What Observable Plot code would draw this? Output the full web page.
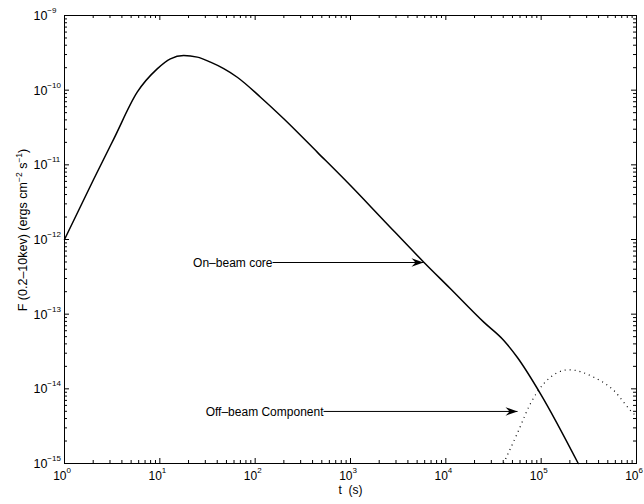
<!DOCTYPE html>
<html><head><meta charset="utf-8">
<script src="https://cdn.jsdelivr.net/npm/d3@7"></script>
<script src="https://cdn.jsdelivr.net/npm/@observablehq/plot@0.6"></script>
<style>
body{margin:0;background:#fff;}
svg{font-family:"Liberation Sans",Arial,Helvetica,sans-serif;}
</style>
</head><body><div id="chart"></div>
<script>
// On-beam core (solid)
const onBeamT = [1, 2.03, 3.29, 5.79, 9.38, 12.9, 17.8, 24.7, 34.0, 46.8, 64.9, 113.8, 199.5, 447.7, 1000, 2234, 5875, 11190, 25000, 40550, 56100, 98400, 245000];
const onBeamF = [1.0e-12, 6.46e-12, 2.23e-11, 9.4e-11, 1.93e-10, 2.63e-10, 2.91e-10, 2.77e-10, 2.37e-10, 1.94e-10, 1.49e-10, 8.05e-11, 4.14e-11, 1.48e-11, 5.28e-12, 1.80e-12, 4.97e-13, 2.19e-13, 7.82e-14, 4.45e-14, 2.65e-14, 8.59e-15, 1.0e-15];
// Off-beam component (dotted)
const offBeamT = [40300, 56100, 77300, 106700, 195000, 356500, 578100, 865000, 1000000];
const offBeamF = [1.0e-15, 2.52e-15, 6.37e-15, 1.18e-14, 1.80e-14, 1.43e-14, 9.5e-15, 5.13e-15, 4.27e-15];
// Tick labels
const xTickValues = [1, 10, 100, 1e3, 1e4, 1e5, 1e6];
const xTickExponents = ["0", "1", "2", "3", "4", "5", "6"];
const yTickValues = [1e-15, 1e-14, 1e-13, 1e-12, 1e-11, 1e-10, 1e-9];
const yTickExponents = ["\u221215", "\u221214", "\u221213", "\u221212", "\u221211", "\u221210", "\u22129"];
// Annotations
const annLabels = ["On\u2013beam core", "Off\u2013beam Component"];
const annStartT = [152, 521];
const annEndT = [5834, 56500];
const annF = [4.92e-13, 4.98e-15];

const onBeam = onBeamT.map((t, i) => ({t, f: onBeamF[i]}));
const offBeam = offBeamT.map((t, i) => ({t, f: offBeamF[i]}));
const ann = annLabels.map((label, i) => ({label, t1: annStartT[i], t2: annEndT[i], f: annF[i]}));

const xMinor = [], yMinor = [];
for (let k = 0; k < 6; k++) for (let m = 2; m <= 9; m++) xMinor.push(m * Math.pow(10, k));
for (let k = -15; k < -9; k++) for (let m = 2; m <= 9; m++) yMinor.push(m * Math.pow(10, k));

const W = 644, H = 504, mL = 64, mR = 8, mT = 15, mB = 41;
const pw = W - mL - mR, ph = H - mT - mB;
const majL = 5, minL = 3;

const head = {
  draw(context) {
    context.moveTo(0, 0);
    context.lineTo(-12, -4.2);
    context.lineTo(-8, 0);
    context.lineTo(-12, 4.2);
    context.closePath();
  }
};

const svg = Plot.plot({
  width: W, height: H,
  marginLeft: mL, marginRight: mR, marginTop: mT, marginBottom: mB,
  style: {fontFamily: "Liberation Sans, Arial, sans-serif", fontSize: "12px", background: "white", color: "black"},
  x: {type: "log", domain: [1, 1e6], axis: null},
  y: {type: "log", domain: [1e-15, 1e-9], axis: null},
  marks: [
    // ticks (inward, all four sides)
    Plot.ruleX(xTickValues, {x: d => d, insetTop: ph - majL, stroke: "black"}),
    Plot.ruleX(xTickValues, {x: d => d, insetBottom: ph - majL, stroke: "black"}),
    Plot.ruleX(xMinor, {x: d => d, insetTop: ph - minL, stroke: "black"}),
    Plot.ruleX(xMinor, {x: d => d, insetBottom: ph - minL, stroke: "black"}),
    Plot.ruleY(yTickValues, {y: d => d, insetRight: pw - majL, stroke: "black"}),
    Plot.ruleY(yTickValues, {y: d => d, insetLeft: pw - majL, stroke: "black"}),
    Plot.ruleY(yMinor, {y: d => d, insetRight: pw - minL, stroke: "black"}),
    Plot.ruleY(yMinor, {y: d => d, insetLeft: pw - minL, stroke: "black"}),
    // curves
    Plot.line(onBeam, {x: "t", y: "f", stroke: "black", strokeWidth: 1.5, curve: "monotone-x"}),
    Plot.line(offBeam, {x: "t", y: "f", stroke: "black", strokeWidth: 1.2, strokeDasharray: "1 4", strokeLinecap: "butt", curve: "monotone-x"}),
    // annotations
    Plot.link(ann, {x1: "t1", x2: "t2", y1: "f", y2: "f", stroke: "black", strokeWidth: 1}),
    Plot.dot(ann, {x: "t2", y: "f", symbol: head, fill: "black", stroke: "none"}),
    Plot.text(ann, {x: "t1", y: "f", text: "label", textAnchor: "end", dy: 1, fontSize: 12, fill: "black"}),
    // tick labels
    Plot.text(xTickValues, {x: d => d, frameAnchor: "bottom", text: () => "10", textAnchor: "end", dx: 2, dy: 16, fontSize: 12, fill: "black"}),
    Plot.text(xTickValues, {x: d => d, frameAnchor: "bottom", text: (d, i) => xTickExponents[i], textAnchor: "start", dx: 2, dy: 9, fontSize: 8, fill: "black"}),
    Plot.text(yTickValues, {y: d => d, frameAnchor: "left", text: () => "10", textAnchor: "start", dx: -31, dy: 0.5, fontSize: 12.5, fill: "black"}),
    Plot.text(yTickValues, {y: d => d, frameAnchor: "left", text: (d, i) => yTickExponents[i], textAnchor: "start", dx: -17.2, dy: -5, fontSize: 8, fill: "black"}),
    // x label
    Plot.text(["t\u00a0\u00a0(s)"], {frameAnchor: "bottom", dy: 30.5, fontSize: 12, fill: "black"}),
    Plot.frame({stroke: "black", strokeWidth: 1})
  ]
});

// y label with superscripts
const lab = d3.select(svg).append("text")
  .attr("transform", "translate(27,230) rotate(-90)")
  .attr("text-anchor", "middle")
  .attr("font-size", 12.5)
  .attr("fill", "black");
lab.append("tspan").text("F (0.2\u201310kev) (ergs cm");
lab.append("tspan").attr("dy", -5).attr("font-size", 8.5).text("\u22122");
lab.append("tspan").attr("dy", 5).text("\u00a0s");
lab.append("tspan").attr("dy", -5).attr("font-size", 8.5).text("\u22121");
lab.append("tspan").attr("dy", 5).text(")");

document.getElementById("chart").appendChild(svg);
</script>
</body></html>
